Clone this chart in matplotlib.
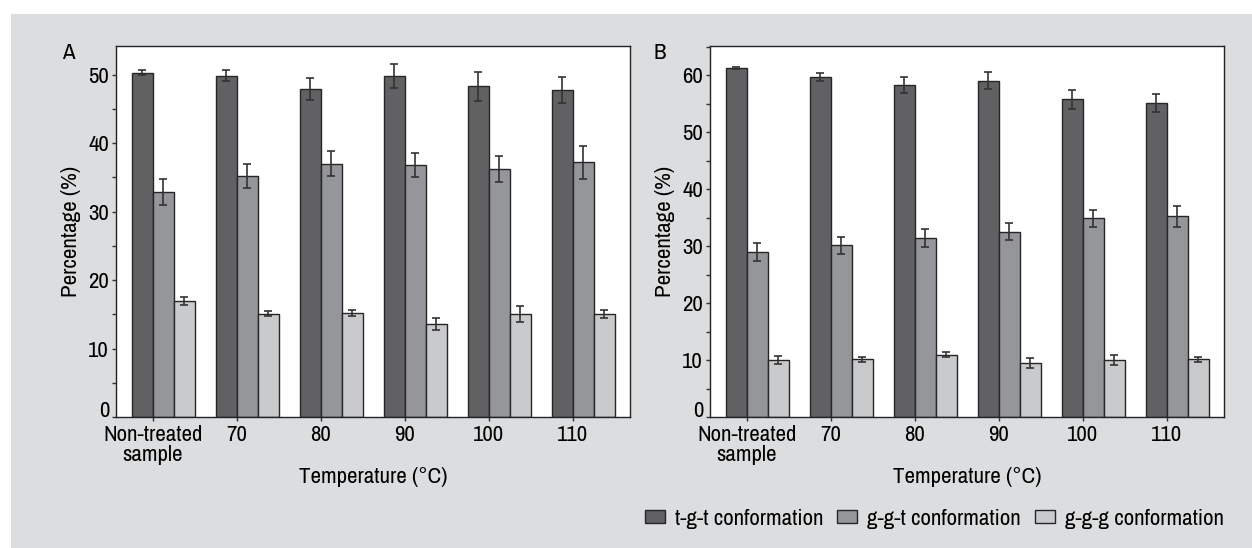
import matplotlib
matplotlib.use("Agg")
import matplotlib.pyplot as plt
import numpy as np
from matplotlib.patches import Rectangle, Patch

plt.rcParams['font.family'] = ['Archivo Narrow', 'Liberation Sans', 'DejaVu Sans']

categories = ["Non-treated\nsample", "70", "80", "90", "100", "110"]
series_names = ["t-g-t conformation", "g-g-t conformation", "g-g-g conformation"]

# Panel A
a_tgt = [50.3, 49.85, 47.9, 49.85, 48.3, 47.7]
a_tgt_err = [0.4, 0.8, 1.65, 1.75, 2.1, 1.9]
a_ggt = [32.85, 35.2, 37.0, 36.8, 36.3, 37.2]
a_ggt_err = [1.9, 1.8, 1.85, 1.8, 1.9, 2.4]
a_ggg = [16.9, 15.1, 15.2, 13.6, 15.0, 15.0]
a_ggg_err = [0.6, 0.4, 0.5, 0.9, 1.15, 0.6]

# Panel B
b_tgt = [61.25, 59.7, 58.2, 59.0, 55.75, 55.1]
b_tgt_err = [0.2, 0.7, 1.4, 1.5, 1.65, 1.6]
b_ggt = [28.9, 30.1, 31.4, 32.5, 34.9, 35.2]
b_ggt_err = [1.6, 1.55, 1.6, 1.5, 1.5, 1.8]
b_ggg = [10.0, 10.1, 10.95, 9.5, 10.0, 10.1]
b_ggg_err = [0.7, 0.4, 0.5, 0.85, 0.8, 0.5]

colors = ["#616163", "#95969a", "#c9cacc"]
edge = "#262626"
bg = "#dcdddf"
W, H = 1252, 548

fig = plt.figure(figsize=(W / 100, H / 100), dpi=100)
fig.patch.set_facecolor("white")
fig.patches.append(Rectangle((11 / W, 0), 1 - 11 / W, 1 - 14 / H,
                             transform=fig.transFigure, facecolor=bg,
                             edgecolor="none", zorder=-10))

ax_w = 514 / W
ax_b = (H - 417) / H
ax_h = (417 - 46) / H
axA = fig.add_axes([116 / W, ax_b, ax_w, ax_h])
axB = fig.add_axes([710 / W, ax_b, ax_w, ax_h])

x = np.arange(len(categories))
bw = 0.25
fs = 16.5


def draw(ax, vals, errs, ymax, letter, lx):
    for k, (v, e) in enumerate(zip(vals, errs)):
        pos = x - bw / 2 + k * bw
        ax.bar(pos, v, width=bw, color=colors[k], edgecolor=edge,
               linewidth=1.0, zorder=2)
        ax.errorbar(pos, v, yerr=e, fmt="none", ecolor="#333333",
                    elinewidth=1.2, capsize=2.6, capthick=1.2, zorder=3)
    ax.set_xlim(-0.44, 5.68)
    ax.set_ylim(0, ymax)
    ax.set_xticks(x)
    ax.set_xticklabels(categories, fontsize=fs, linespacing=0.95)
    yt = np.arange(0, ymax, 10)
    ax.set_yticks(yt)
    ax.set_yticklabels([f"{v:.0f}" for v in yt], fontsize=fs)
    ax.set_yticks(np.arange(5, ymax, 10), minor=True)
    ax.tick_params(axis="both", which="both", direction="out", length=3,
                   width=1, color="#333333", labelsize=fs, pad=2)
    ax.tick_params(axis="x", pad=3)
    # the zero label sits on the baseline rather than centred on it
    ax.get_yticklabels()[0].set_verticalalignment("baseline")
    for s in ax.spines.values():
        s.set_color("#222222")
        s.set_linewidth(1.0)
    ax.set_ylabel("Percentage (%)", fontsize=fs, labelpad=5)
    ax.set_xlabel("Temperature (°C)", fontsize=fs, labelpad=2)
    ax.set_facecolor("white")
    fig.text(lx / W, 1 - 53 / H, letter, fontsize=fs, ha="center", va="center")


draw(axA, [a_tgt, a_ggt, a_ggg], [a_tgt_err, a_ggt_err, a_ggg_err], 54.2, "A", 68)
draw(axB, [b_tgt, b_ggt, b_ggg], [b_tgt_err, b_ggt_err, b_ggg_err], 65.1, "B", 660)

handles = [Patch(facecolor=c, edgecolor=edge, linewidth=1.0) for c in colors]
fig.legend(handles, series_names, loc="center right",
           bbox_to_anchor=(1224 / W, 1 - 519 / H), ncol=3, frameon=False,
           fontsize=fs, handlelength=0.87, handleheight=0.48,
           handletextpad=0.44, columnspacing=0.6, borderaxespad=0,
           borderpad=0)

fig.savefig("out.png", dpi=100, facecolor=fig.get_facecolor())
